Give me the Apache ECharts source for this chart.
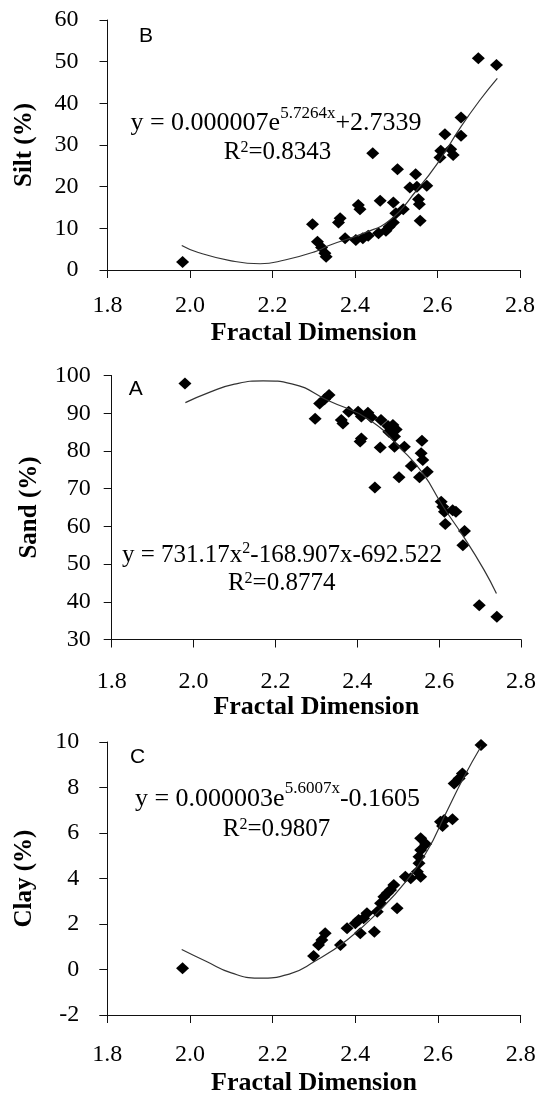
<!DOCTYPE html>
<html><head><meta charset="utf-8">
<script src="https://cdn.jsdelivr.net/npm/echarts@6/dist/echarts.min.js"></script>
<style>html,body{margin:0;padding:0;background:#fff;}#c{width:539px;height:1099px;}</style>
</head><body><div id="c"></div>
<script>
// ---- data ----
const xTicks = ['1.8','2.0','2.2','2.4','2.6','2.8'];

const siltX = [1.982,2.297,2.309,2.319,2.327,2.330,2.360,2.364,2.376,2.402,2.408,2.412,2.419,2.432,2.443,2.457,2.461,2.475,2.483,2.493,2.493,2.499,2.503,2.517,2.533,2.547,2.550,2.554,2.556,2.558,2.574,2.606,2.608,2.618,2.632,2.638,2.657,2.657,2.699,2.743];
const siltY = [1.9,11.0,6.8,5.4,4.0,3.2,11.4,12.4,7.6,7.2,15.6,14.6,7.6,8.2,28.0,8.8,16.6,9.4,10.4,11.4,16.2,13.6,24.2,14.6,19.8,23.0,20.0,17.0,15.8,11.8,20.2,27.0,28.6,32.6,29.0,27.6,36.6,32.2,50.8,49.2];
const siltFitX = [1.98,2.02,2.10,2.17,2.23,2.30,2.34,2.42,2.485,2.55,2.60,2.657,2.703,2.745];
const siltFitY = [5.9,4.2,2.2,1.5,2.4,4.3,6.0,8.8,12.0,19.2,25.6,34.4,40.8,46.0];

const sandX = [1.979,2.297,2.308,2.320,2.331,2.361,2.365,2.379,2.402,2.407,2.410,2.410,2.426,2.434,2.443,2.456,2.458,2.475,2.477,2.487,2.491,2.491,2.495,2.502,2.515,2.532,2.552,2.556,2.558,2.560,2.571,2.605,2.609,2.613,2.615,2.633,2.641,2.658,2.662,2.698,2.741];
const sandY = [97.9,88.5,92.6,93.7,94.8,88.2,87.3,90.4,90.4,82.5,89.1,83.3,90.1,88.9,70.3,80.9,88.2,86.6,85.1,86.9,83.8,81.1,85.7,73.0,81.1,76.0,73.0,79.4,82.7,77.6,74.5,66.5,65.2,63.9,60.6,64.3,63.9,55.0,58.8,39.1,36.0];
const sandFitX = [1.98,2.04,2.10,2.17,2.24,2.33,2.43,2.51,2.56,2.61,2.66,2.71,2.74];
const sandFitY = [92.8,95.6,97.7,98.6,97.8,93.3,88.2,80.2,74.1,65.2,57.2,48.4,42.2];

const clayX = [1.982,2.299,2.311,2.319,2.327,2.364,2.380,2.400,2.408,2.412,2.420,2.428,2.446,2.453,2.461,2.469,2.477,2.485,2.493,2.501,2.521,2.534,2.550,2.554,2.554,2.558,2.558,2.558,2.570,2.606,2.611,2.615,2.635,2.639,2.651,2.659,2.704];
const clayY = [0.05,0.59,1.08,1.30,1.59,1.08,1.81,2.03,2.18,1.59,2.25,2.47,1.66,2.54,2.91,3.20,3.35,3.49,3.71,2.69,4.08,4.01,4.30,4.96,4.67,5.77,5.25,4.08,5.52,6.50,6.31,6.57,6.60,8.18,8.40,8.62,9.87];
const clayFitX = [1.98,2.04,2.10,2.165,2.24,2.30,2.38,2.46,2.525,2.575,2.615,2.663,2.704];
const clayFitY = [0.88,0.35,-0.15,-0.38,-0.2,0.34,1.30,2.62,3.93,5.25,6.72,8.47,9.8];

const panelNames = ['Silt (%)','Sand (%)','Clay (%)'];
const panelLetters = ['B','A','C'];
const yMin = [0,30,-2], yMax = [60,100,10], yStep = [10,10,2];
const eqMain1 = ['y = 0.000007e','y = 731.17x','y = 0.000003e'];
const eqSup   = ['5.7264x','2','5.6007x'];
const eqMain2 = ['+2.7339','-168.907x-692.522','-0.1605'];
const r2Text  = ['0.8343','0.8774','0.9807'];

// ---- layout / style ----
const SERIF = 'Liberation Serif';
const grids = [
  {left:107.5, top:20,    width:412.5, height:250},
  {left:111.7, top:375.5, width:410,   height:264},
  {left:107.3, top:742,   width:413.4, height:273}
];
const yLabelMargin = [29, 21, 28];
const xLabelMargin = [24, 30, 28];
const xNameGap = [50, 55, 55];
const eqPos  = [[276,123,18],[282,555,13],[277.5,799,20]];
const r2Pos  = [[277.5,152.5],[281.7,583],[276.5,829]];
const letterPos = [[146,36],[135.7,389],[137.5,757]];

const zip = (xs, ys) => xs.map((x, i) => [x, ys[i]]);
const pts = [zip(siltX, siltY), zip(sandX, sandY), zip(clayX, clayY)];
const fits = [zip(siltFitX, siltFitY), zip(sandFitX, sandFitY), zip(clayFitX, clayFitY)];

const axisLine = {show:true, onZero:false, lineStyle:{color:'#111', width:1}};
const axisTick = {show:true, length:8, lineStyle:{color:'#111', width:1}};

const option = {
  animation:false,
  backgroundColor:'#fff',
  grid: grids.map(g => Object.assign({containLabel:false}, g)),
  xAxis: [0,1,2].map(i => ({
    gridIndex:i, type:'value', min:1.8, max:2.8, interval:0.2,
    name:'Fractal Dimension', nameLocation:'middle', nameGap:xNameGap[i],
    nameTextStyle:{fontFamily:SERIF, fontWeight:'bold', fontSize:26, color:'#000'},
    axisLine, axisTick, splitLine:{show:false},
    axisLabel:{margin:xLabelMargin[i], fontFamily:SERIF, fontSize:24, color:'#000',
      formatter: v => xTicks[Math.round((v - 1.8) / 0.2)]}
  })),
  yAxis: [0,1,2].map(i => ({
    gridIndex:i, type:'value', min:yMin[i], max:yMax[i], interval:yStep[i],
    name:panelNames[i], nameLocation:'middle', nameGap:70,
    nameTextStyle:{fontFamily:SERIF, fontWeight:'bold', fontSize:25, color:'#000'},
    axisLine, axisTick, splitLine:{show:false},
    axisLabel:{margin:yLabelMargin[i], fontFamily:SERIF, fontSize:24, color:'#000'}
  })),
  series: [
    ...[0,1,2].map(i => ({
      type:'scatter', xAxisIndex:i, yAxisIndex:i, data:pts[i],
      symbol:'diamond', symbolSize:[13,12], itemStyle:{color:'#000', opacity:1}, z:2
    })),
    ...[0,1,2].map(i => ({
      type:'line', xAxisIndex:i, yAxisIndex:i, data:fits[i], smooth:0.5,
      showSymbol:false, symbol:'none', lineStyle:{color:'#333', width:1.2}, z:3
    }))
  ],
  graphic: [
    ...[0,1,2].map(i => ({
      type:'text', x:eqPos[i][0], y:eqPos[i][1], z:10,
      style:{
        text:'{m|' + eqMain1[i] + '}{s|' + eqSup[i] + '}{m|' + eqMain2[i] + '}',
        align:'center', verticalAlign:'middle', fill:'#000',
        font:'25px ' + SERIF,
        rich:{
          m:{fontFamily:SERIF, fontSize:(i===1?25:26), fill:'#000'},
          s:{fontFamily:SERIF, fontSize:(i===1?16:17), fill:'#000', padding:[0,0,eqPos[i][2],0]}
        }
      }
    })),
    ...[0,1,2].map(i => ({
      type:'text', x:r2Pos[i][0], y:r2Pos[i][1], z:10,
      style:{
        text:'{m|R}{s|2}{m|=' + r2Text[i] + '}',
        align:'center', verticalAlign:'middle', fill:'#000',
        font:'25px ' + SERIF,
        rich:{
          m:{fontFamily:SERIF, fontSize:25, fill:'#000'},
          s:{fontFamily:SERIF, fontSize:16, fill:'#000', padding:[0,0,9,0]}
        }
      }
    })),
    ...[0,1,2].map(i => ({
      type:'text', x:letterPos[i][0], y:letterPos[i][1], z:10,
      style:{text:panelLetters[i], align:'center', verticalAlign:'middle',
        font:'21px "Liberation Sans"', fill:'#000'}
    }))
  ]
};
const chart = echarts.init(document.getElementById('c'));
chart.setOption(option);
</script></body></html>
